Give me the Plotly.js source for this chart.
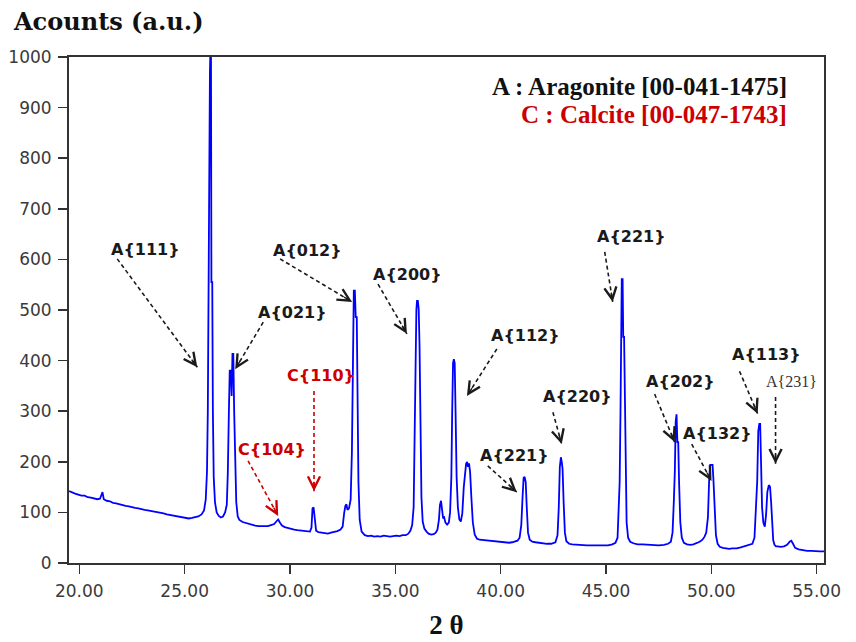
<!DOCTYPE html>
<html>
<head>
<meta charset="utf-8">
<script src="https://cdn.plot.ly/plotly-3.0.1.min.js"></script>
<style>html,body{margin:0;padding:0;background:#fff;}#chart{width:856px;height:642px;}</style>
</head>
<body>
<div id="chart"></div>
<script>
// ---- Data ----
var twoTheta = [
19.51,19.65,19.8,19.95,20.1,20.25,20.4,20.55,20.7,20.85,20.98,21.05,21.1,21.16,21.3,21.45,21.6,21.75,21.9,22.05,
22.2,22.35,22.5,22.65,22.8,22.95,23.1,23.25,23.4,23.55,23.7,23.85,24.0,24.15,24.3,24.45,24.6,24.75,24.9,25.05,
25.2,25.35,25.5,25.65,25.8,25.92,26.0,26.06,26.1,26.14,26.17,26.2,26.22,26.25,26.27,26.31,26.34,26.38,26.44,26.52,
26.62,26.72,26.82,26.92,27.0,27.05,27.1,27.14,27.19,27.23,27.27,27.31,27.35,27.39,27.45,27.52,27.6,27.75,27.9,28.05,
28.2,28.35,28.5,28.65,28.8,28.95,29.1,29.25,29.35,29.44,29.52,29.62,29.75,29.9,30.05,30.2,30.35,30.5,30.65,30.8,
30.95,31.02,31.07,31.12,31.17,31.24,31.35,31.5,31.65,31.8,31.95,32.1,32.25,32.4,32.5,32.57,32.63,32.68,32.73,32.8,
32.88,32.94,32.99,33.03,33.08,33.12,33.17,33.21,33.25,33.31,33.4,33.55,33.7,33.85,34.0,34.15,34.3,34.45,34.6,34.75,
34.9,35.05,35.2,35.35,35.5,35.62,35.72,35.8,35.87,35.92,35.96,36.0,36.03,36.07,36.11,36.15,36.19,36.24,36.3,36.38,
36.48,36.58,36.7,36.82,36.92,37.0,37.07,37.12,37.17,37.22,37.27,37.32,37.38,37.46,37.54,37.6,37.66,37.7,37.74,37.78,
37.82,37.86,37.91,37.97,38.04,38.11,38.18,38.25,38.31,38.36,38.41,38.45,38.5,38.55,38.61,38.68,38.77,38.88,39.0,39.2,
39.4,39.6,39.8,40.0,40.2,40.4,40.55,40.68,40.8,40.9,40.98,41.04,41.09,41.14,41.19,41.24,41.3,41.38,41.5,41.65,
41.8,42.0,42.2,42.4,42.6,42.7,42.76,42.81,42.86,42.9,42.94,42.99,43.05,43.12,43.25,43.4,43.6,43.85,44.1,44.35,
44.6,44.85,45.1,45.3,45.45,45.55,45.61,45.65,45.69,45.72,45.75,45.79,45.82,45.86,45.89,45.93,45.98,46.05,46.15,46.3,
46.5,46.75,47.0,47.25,47.5,47.75,47.95,48.08,48.16,48.22,48.27,48.31,48.35,48.39,48.43,48.47,48.53,48.6,48.7,48.85,
49.0,49.15,49.3,49.45,49.58,49.68,49.76,49.84,49.9,49.95,50.0,50.06,50.1,50.16,50.22,50.3,50.4,50.55,50.7,50.85,
51.0,51.2,51.4,51.6,51.8,51.95,52.05,52.12,52.18,52.23,52.28,52.32,52.36,52.41,52.47,52.54,52.6,52.66,52.73,52.79,
52.84,52.89,52.94,53.0,53.07,53.15,53.3,53.45,53.6,53.72,53.8,53.88,53.98,54.15,54.35,54.55,54.75,54.95,55.15,55.35
];
var counts = [
142,139,137,135,133,133,130,129,128,126,127,137,140,126,123,122,119,118,116,115,
113,112,110,109,108,106,105,104,103,101,100,99,98,96,95,94,92,91,90,89,
88,89,91,92,96,104,125,180,300,600,970,970,1010,1010,555,555,300,170,120,100,
93,90,92,100,115,180,300,380,380,330,413,413,300,200,120,92,85,81,79,77,
76,74,73,73,72,73,75,77,82,86,80,74,71,69,68,66,65,64,63,62,
62,70,108,110,85,64,61,60,59,58,60,61,63,66,72,98,113,116,105,108,
125,220,400,538,538,486,486,320,160,85,62,55,53,54,52,53,52,54,53,52,
53,54,53,55,55,58,64,75,110,220,380,500,518,518,502,430,260,130,82,68,
62,58,56,57,60,66,85,115,123,110,88,90,80,76,80,100,170,300,395,403,
395,300,170,110,86,82,98,150,185,196,200,190,197,180,130,80,56,48,46,45,
44,43,42,41,40,40,41,43,44,50,75,130,168,170,160,110,60,46,42,41,
40,39,38,38,41,55,110,190,209,200,186,120,60,43,38,37,36,36,35,35,
35,35,35,37,40,50,100,160,300,488,561,561,447,447,318,160,80,50,42,39,
37,37,36,36,35,36,38,42,60,120,182,280,294,239,239,160,80,50,40,37,
36,37,39,42,46,52,60,90,166,194,194,194,166,100,55,38,32,30,29,28,
29,29,31,33,35,38,50,100,162,260,275,275,162,110,80,72,95,140,154,150,
120,75,45,36,33,33,32,33,36,42,44,38,30,27,25,24,24,23,23,23
];
var xTicks = [20, 25, 30, 35, 40, 45, 50, 55];
var xTickText = ['20.00','25.00','30.00','35.00','40.00','45.00','50.00','55.00'];
var yTicks = [0,100,200,300,400,500,600,700,800,900,1000];
var peakLabels = ['A{111}','A{021}','A{012}','A{200}','C{110}','C{104}','A{112}','A{221}','A{220}','A{221}','A{202}','A{132}','A{113}','A{231}'];
var phaseLines = ['A : Aragonite [00-041-1475]','C : Calcite [00-047-1743]'];

// ---- Annotation layout (label point, arrow tail, arrow head) in axis units ----
var annPos = [
  {lx:23.13, ly:619, tx:21.80, ty:601, hx:25.60, hy:387},
  {lx:30.10, ly:496, tx:28.73, ty:476, hx:27.40, hy:383},
  {lx:30.81, ly:617, tx:29.53, ty:601, hx:32.95, hy:516},
  {lx:35.60, ly:571, tx:34.18, ty:551, hx:35.55, hy:453},
  {lx:31.48, ly:370, tx:31.14, ty:340, hx:31.14, hy:142},
  {lx:29.15, ly:225, tx:28.01, ty:202, hx:29.44, hy:93},
  {lx:41.20, ly:449, tx:39.82, ty:423, hx:38.40, hy:330},
  {lx:40.67, ly:212, tx:39.39, ty:192, hx:40.77, hy:140},
  {lx:43.66, ly:330, tx:42.48, ty:298, hx:42.90, hy:235},
  {lx:46.22, ly:646, tx:44.94, ty:615, hx:45.32, hy:516},
  {lx:48.55, ly:358, tx:47.31, ty:334, hx:48.26, hy:239},
  {lx:50.30, ly:255, tx:49.07, ty:235, hx:50.01, hy:162},
  {lx:52.62, ly:413, tx:51.34, ty:379, hx:52.20, hy:295},
  {lx:53.81, ly:358, tx:53.05, ty:328, hx:53.05, hy:196}
];

var M = {l:69, r:32, t:57, b:79};
var XR = [19.51, 55.35], YR = [0, 1000];
var pxPerX = (856 - M.l - M.r) / (XR[1] - XR[0]);
var pxPerY = (642 - M.t - M.b) / (YR[1] - YR[0]);

var BLACK = '#1a1a1a', RED = '#cc0000';
var annotations = [], shapes = [];
peakLabels.forEach(function(lbl, i){
  var p = annPos[i];
  var col = lbl.charAt(0) === 'C' ? RED : BLACK;
  var small = (i === 13);
  annotations.push({
    x:p.lx, y:p.ly, xref:'x', yref:'y', showarrow:false,
    text: small ? lbl : '<b>'+lbl+'</b>',
    font: small ? {family:'Liberation Serif, serif', size:16, color:'#333'} : {family:'DejaVu Sans, sans-serif', size:16, color:col},
    xanchor:'center', yanchor:'middle'
  });
  shapes.push({type:'line', xref:'x', yref:'y', x0:p.tx, y0:p.ty, x1:p.hx, y1:p.hy,
    line:{color:col, width:1.6, dash:'4px,3px'}});
  // arrowhead only: direction from tail to head, in pixels
  var dx = (p.tx - p.hx) * pxPerX, dy = -(p.ty - p.hy) * pxPerY;
  var len = Math.sqrt(dx*dx + dy*dy), L = 60;
  annotations.push({
    x:p.hx, y:p.hy, xref:'x', yref:'y',
    ax: dx/len*L, ay: dy/len*L,
    text:'', font:{size:2}, borderpad:0, showarrow:true, arrowhead:5, arrowsize:1.7, arrowwidth:1.4, arrowcolor:col,
    startstandoff:50
  });
});
annotations.push({xref:'paper', yref:'paper', x:0.953, y:0.941, xanchor:'right', yanchor:'middle', showarrow:false,
  text:'<b>'+phaseLines[0]+'</b>', font:{family:'Liberation Serif, serif', size:25, color:'#111'}});
annotations.push({xref:'paper', yref:'paper', x:0.953, y:0.886, xanchor:'right', yanchor:'middle', showarrow:false,
  text:'<b>'+phaseLines[1]+'</b>', font:{family:'Liberation Serif, serif', size:25, color:RED}});

var trace = {x:twoTheta, y:counts, type:'scatter', mode:'lines', line:{color:'#0000ff', width:1.8}, hoverinfo:'x+y'};

var layout = {
  width:856, height:642,
  margin:M,
  paper_bgcolor:'#fff', plot_bgcolor:'#fff',
  showlegend:false,
  title:{text:'<b>Acounts (a.u.)</b>', x:14/856, xanchor:'left', y:1-22/642, yanchor:'middle',
    font:{family:'DejaVu Serif, serif', size:24, color:'#111'}},
  xaxis:{range:XR, tickvals:xTicks, ticktext:xTickText, ticks:'outside', ticklen:9, tickwidth:1.5, tickcolor:'#333',
    showline:true, linecolor:'#333', linewidth:2, mirror:true, showgrid:false, zeroline:false,
    ticklabelstandoff:3,
    tickfont:{family:'DejaVu Sans, sans-serif', size:17, color:'#3a3a3a'},
    title:{text:'<b>2 θ</b>', font:{family:'Liberation Serif, serif', size:27, color:'#111'}, standoff:15}},
  yaxis:{range:YR, tickvals:yTicks, ticks:'outside', ticklen:9, tickwidth:1.5, tickcolor:'#333',
    showline:true, linecolor:'#333', linewidth:2, mirror:true, showgrid:false, zeroline:false,
    ticklabelstandoff:3,
    tickfont:{family:'DejaVu Sans, sans-serif', size:17, color:'#3a3a3a'}},
  annotations:annotations,
  shapes:shapes
};
Plotly.newPlot('chart', [trace], layout, {displayModeBar:false, staticPlot:true});
</script>
</body>
</html>
